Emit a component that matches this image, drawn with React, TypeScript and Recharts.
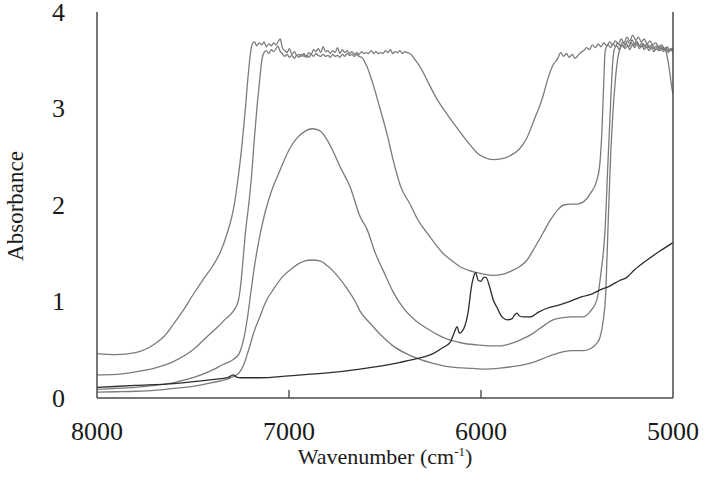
import React from 'react';
import { LineChart, Line, XAxis, YAxis, Label } from 'recharts';

type P = [number, number];

// Series A: highest baseline (~0.46), min ~2.48 near 5940 cm-1
const seriesA: P[] = [
  [8000, 0.46], [7900, 0.45], [7800, 0.47], [7700, 0.56], [7650, 0.64], [7600, 0.77], [7550, 0.91], [7500, 1.07],
  [7450, 1.22], [7400, 1.36], [7360, 1.50], [7320, 1.72], [7290, 1.95], [7265, 2.28], [7245, 2.62], [7228, 2.98],
  [7212, 3.36], [7200, 3.58], [7193, 3.66], [7180, 3.69], [7168, 3.65], [7155, 3.68], [7142, 3.66], [7130, 3.69],
  [7118, 3.64], [7105, 3.67], [7092, 3.65], [7080, 3.68], [7068, 3.66], [7055, 3.70], [7045, 3.72], [7035, 3.63],
  [7022, 3.60], [7010, 3.58], [6998, 3.62], [6985, 3.56], [6972, 3.59], [6960, 3.55], [6948, 3.56], [6935, 3.54],
  [6922, 3.57], [6910, 3.53], [6897, 3.58], [6885, 3.56], [6872, 3.61], [6860, 3.59], [6848, 3.62], [6835, 3.58],
  [6822, 3.64], [6810, 3.59], [6797, 3.60], [6785, 3.57], [6772, 3.60], [6760, 3.58], [6747, 3.63], [6735, 3.57],
  [6722, 3.61], [6710, 3.58], [6697, 3.60], [6685, 3.57], [6672, 3.59], [6660, 3.56], [6647, 3.58], [6635, 3.56],
  [6622, 3.59], [6610, 3.57], [6597, 3.58], [6585, 3.57], [6572, 3.60], [6560, 3.57], [6547, 3.59], [6535, 3.57],
  [6522, 3.58], [6510, 3.57], [6497, 3.60], [6485, 3.58], [6472, 3.61], [6460, 3.57], [6447, 3.59], [6435, 3.58],
  [6422, 3.60], [6410, 3.57], [6397, 3.59], [6385, 3.58], [6372, 3.57], [6360, 3.55], [6345, 3.51], [6330, 3.47],
  [6300, 3.37], [6280, 3.29], [6230, 3.10], [6180, 2.95], [6110, 2.76], [6060, 2.63], [6020, 2.54], [5980, 2.49],
  [5937, 2.47], [5890, 2.48], [5849, 2.51], [5800, 2.58], [5760, 2.70], [5720, 2.90], [5690, 3.05], [5677, 3.13],
  [5650, 3.32], [5625, 3.45], [5600, 3.52], [5585, 3.58], [5570, 3.54], [5555, 3.57], [5540, 3.53], [5525, 3.56],
  [5510, 3.52], [5495, 3.55], [5480, 3.58], [5465, 3.60], [5450, 3.63], [5435, 3.61], [5420, 3.66], [5405, 3.63],
  [5390, 3.67], [5375, 3.64], [5360, 3.68], [5345, 3.65], [5330, 3.69], [5315, 3.66], [5300, 3.70], [5285, 3.67],
  [5270, 3.72], [5255, 3.68], [5240, 3.74], [5225, 3.70], [5210, 3.76], [5195, 3.71], [5180, 3.74], [5165, 3.69],
  [5150, 3.72], [5135, 3.67], [5120, 3.70], [5105, 3.66], [5090, 3.68], [5075, 3.64], [5060, 3.66], [5045, 3.62],
  [5035, 3.58], [5025, 3.48], [5015, 3.35], [5008, 3.24], [5000, 3.15],
];

// Series B: baseline ~0.24, min ~1.27, shoulder ~2.0 near 5500
const seriesB: P[] = [
  [8000, 0.24], [7900, 0.245], [7800, 0.27], [7700, 0.31], [7600, 0.38], [7500, 0.50], [7430, 0.63], [7380, 0.72],
  [7330, 0.82], [7290, 0.90], [7265, 1.00], [7250, 1.20], [7240, 1.42], [7225, 1.75], [7210, 2.00], [7195, 2.30],
  [7180, 2.70], [7165, 3.05], [7150, 3.35], [7140, 3.52], [7130, 3.58], [7118, 3.60], [7105, 3.57], [7092, 3.61],
  [7080, 3.59], [7068, 3.62], [7058, 3.65], [7048, 3.60], [7035, 3.57], [7022, 3.54], [7010, 3.56], [6998, 3.53],
  [6985, 3.55], [6972, 3.52], [6960, 3.55], [6948, 3.53], [6935, 3.56], [6922, 3.54], [6910, 3.55], [6897, 3.53],
  [6885, 3.56], [6872, 3.54], [6860, 3.57], [6848, 3.55], [6835, 3.54], [6822, 3.56], [6810, 3.54], [6797, 3.55],
  [6785, 3.53], [6772, 3.56], [6760, 3.54], [6747, 3.55], [6735, 3.53], [6722, 3.56], [6710, 3.54], [6697, 3.57],
  [6685, 3.55], [6672, 3.56], [6660, 3.54], [6647, 3.56], [6635, 3.54], [6622, 3.53], [6610, 3.50], [6598, 3.45],
  [6585, 3.39], [6570, 3.30], [6550, 3.17], [6526, 3.00], [6490, 2.74], [6458, 2.47], [6420, 2.20], [6370, 2.01],
  [6330, 1.85], [6281, 1.71], [6240, 1.60], [6198, 1.50], [6150, 1.42], [6109, 1.36], [6060, 1.32], [6021, 1.30],
  [5980, 1.28], [5937, 1.27], [5890, 1.28], [5849, 1.31], [5800, 1.36], [5760, 1.43], [5720, 1.56], [5677, 1.71],
  [5640, 1.84], [5600, 1.95], [5570, 2.00], [5530, 2.01], [5500, 2.01], [5469, 2.03], [5430, 2.12], [5396, 2.26],
  [5380, 2.45], [5370, 2.78], [5362, 3.20], [5354, 3.58], [5350, 3.62], [5338, 3.66], [5325, 3.63], [5312, 3.67],
  [5300, 3.64], [5288, 3.68], [5275, 3.65], [5262, 3.69], [5250, 3.66], [5237, 3.70], [5225, 3.67], [5212, 3.71],
  [5200, 3.66], [5187, 3.69], [5175, 3.65], [5162, 3.68], [5150, 3.64], [5137, 3.67], [5125, 3.63], [5112, 3.66],
  [5100, 3.62], [5087, 3.65], [5075, 3.62], [5062, 3.64], [5050, 3.61], [5037, 3.63], [5025, 3.60], [5012, 3.62],
  [5000, 3.60],
];

// Series D: peak ~2.79 at 6880
const seriesD: P[] = [
  [8000, 0.09], [7900, 0.10], [7800, 0.11], [7700, 0.13], [7600, 0.16], [7500, 0.21], [7420, 0.27], [7340, 0.35],
  [7290, 0.40], [7260, 0.46], [7235, 0.62], [7215, 0.85], [7195, 1.15], [7177, 1.40], [7150, 1.70], [7125, 1.92],
  [7090, 2.15], [7047, 2.36], [7000, 2.57], [6960, 2.69], [6920, 2.76], [6880, 2.79], [6840, 2.77], [6800, 2.67],
  [6771, 2.56], [6730, 2.38], [6682, 2.19], [6630, 1.88], [6594, 1.75], [6550, 1.50], [6500, 1.28], [6458, 1.10],
  [6400, 0.92], [6340, 0.80], [6281, 0.72], [6200, 0.63], [6100, 0.57], [6021, 0.55], [5950, 0.54], [5901, 0.54],
  [5850, 0.56], [5797, 0.60], [5729, 0.67], [5680, 0.74], [5625, 0.81], [5580, 0.83], [5530, 0.84], [5469, 0.84],
  [5430, 0.90], [5396, 1.02], [5375, 1.30], [5354, 1.74], [5339, 2.43], [5325, 3.05], [5315, 3.45], [5305, 3.62],
  [5292, 3.65], [5280, 3.61], [5267, 3.66], [5255, 3.63], [5242, 3.67], [5230, 3.64], [5217, 3.68], [5205, 3.65],
  [5192, 3.70], [5180, 3.66], [5167, 3.64], [5155, 3.67], [5142, 3.63], [5130, 3.66], [5117, 3.62], [5105, 3.65],
  [5092, 3.61], [5080, 3.64], [5067, 3.60], [5055, 3.63], [5042, 3.61], [5030, 3.64], [5017, 3.60], [5005, 3.62],
  [5000, 3.61],
];

// Series E: peak ~1.43 at 6880
const seriesE: P[] = [
  [8000, 0.06], [7900, 0.065], [7800, 0.07], [7700, 0.08], [7600, 0.10], [7500, 0.12], [7400, 0.16], [7330, 0.19],
  [7292, 0.22], [7260, 0.26], [7235, 0.35], [7210, 0.50], [7180, 0.70], [7150, 0.85], [7125, 0.98], [7080, 1.13],
  [7036, 1.25], [6980, 1.35], [6917, 1.42], [6880, 1.43], [6840, 1.42], [6800, 1.37], [6750, 1.27], [6700, 1.14],
  [6650, 0.98], [6630, 0.90], [6580, 0.78], [6520, 0.65], [6458, 0.54], [6400, 0.47], [6318, 0.40], [6250, 0.36],
  [6150, 0.32], [6073, 0.31], [5990, 0.30], [5901, 0.31], [5820, 0.33], [5729, 0.37], [5650, 0.43], [5589, 0.47],
  [5530, 0.49], [5470, 0.49], [5430, 0.51], [5400, 0.56], [5380, 0.63], [5365, 0.78], [5350, 1.10], [5339, 1.74],
  [5325, 2.50], [5313, 2.95], [5300, 3.30], [5287, 3.53], [5276, 3.62], [5262, 3.66], [5250, 3.62], [5237, 3.65],
  [5225, 3.61], [5212, 3.66], [5200, 3.63], [5187, 3.67], [5175, 3.62], [5162, 3.65], [5150, 3.61], [5137, 3.64],
  [5125, 3.60], [5112, 3.63], [5100, 3.59], [5087, 3.62], [5075, 3.60], [5062, 3.63], [5050, 3.59], [5037, 3.62],
  [5025, 3.58], [5012, 3.61], [5000, 3.58],
];

// Dark series: low baseline with band near 6000
const seriesDark: P[] = [
  [8000, 0.11], [7800, 0.13], [7600, 0.15], [7400, 0.19], [7320, 0.21], [7302, 0.23], [7290, 0.24], [7276, 0.22],
  [7250, 0.21], [7150, 0.21], [7000, 0.23], [6800, 0.26], [6630, 0.30], [6420, 0.37], [6330, 0.41], [6250, 0.46],
  [6200, 0.52], [6160, 0.58], [6135, 0.70], [6125, 0.74], [6112, 0.67], [6095, 0.70], [6085, 0.74], [6068, 0.88],
  [6050, 1.15], [6038, 1.26], [6028, 1.30], [6015, 1.22], [6000, 1.21], [5985, 1.25], [5974, 1.25], [5955, 1.15],
  [5935, 1.01], [5917, 0.94], [5900, 0.87], [5885, 0.83], [5865, 0.81], [5840, 0.82], [5825, 0.86], [5813, 0.88],
  [5800, 0.85], [5780, 0.84], [5745, 0.84], [5700, 0.89], [5656, 0.93], [5600, 0.96], [5552, 0.99], [5474, 1.05],
  [5420, 1.08], [5380, 1.12], [5330, 1.16], [5276, 1.22], [5240, 1.25], [5200, 1.33], [5135, 1.43], [5070, 1.52],
  [5000, 1.61],
];

const grayCurves: P[][] = [seriesA, seriesB, seriesD, seriesE];

const xTicks = [8000, 7000, 6000, 5000];
const yTicks = [0, 1, 2, 3, 4];
const yInnerTicks = [1, 2, 3];

const W = 705;
const H = 477;
const M_LEFT = 97;
const M_RIGHT = 32;
const M_TOP = 12;
const M_BOTTOM = 79;
const PLOT_RIGHT = W - M_RIGHT;
const PLOT_BOTTOM = H - M_BOTTOM;
const FONT = '"Liberation Serif", "Times New Roman", serif';
const AXIS = '#4a4a4a';
const TEXT = '#1a1a1a';

const toRows = (pts: P[]) => pts.map(([w, v]) => ({ w, v }));

const XTick = (props: any) => {
  const { x, payload } = props;
  const v = payload.value;
  const inner = v !== 8000 && v !== 5000;
  return (
    <g>
      {inner && <line x1={x} x2={x} y1={PLOT_BOTTOM} y2={PLOT_BOTTOM - 8} stroke={AXIS} strokeWidth={1.4} />}
      <text x={x} y={PLOT_BOTTOM + 33} textAnchor="middle" dominantBaseline="central" fontSize={26} fontFamily={FONT} fill={TEXT}>
        {v}
      </text>
    </g>
  );
};

const YTick = (props: any) => {
  const { y, payload } = props;
  return (
    <text x={58.5} y={y} textAnchor="middle" dominantBaseline="central" fontSize={26} fontFamily={FONT} fill={TEXT}>
      {payload.value}
    </text>
  );
};

const RightTick = (props: any) => {
  const { y } = props;
  return <line x1={PLOT_RIGHT} x2={PLOT_RIGHT - 8} y1={y} y2={y} stroke={AXIS} strokeWidth={1.4} />;
};

export default function App() {
  return (
    <div style={{ position: 'absolute', left: 0, top: 0, width: W, height: H, background: '#fff' }}>
      <LineChart width={W} height={H} margin={{ top: M_TOP, right: 0, bottom: 0, left: 0 }}>
        <XAxis
          dataKey="w"
          type="number"
          domain={[5000, 8000]}
          reversed
          allowDataOverflow
          ticks={xTicks}
          interval={0}
          tick={<XTick />}
          tickLine={false}
          axisLine={{ stroke: AXIS, strokeWidth: 1.5 }}
          height={M_BOTTOM}
        >
          <Label
            content={() => (
              <text x={385} y={464} textAnchor="middle" fontSize={22} fontFamily={FONT} fill={TEXT}>
                Wavenumber (cm
                <tspan dy={-8} fontSize={13}>-1</tspan>
                <tspan dy={8}>)</tspan>
              </text>
            )}
          />
        </XAxis>
        <XAxis
          xAxisId="top"
          orientation="top"
          type="number"
          domain={[5000, 8000]}
          reversed
          height={0}
          tick={false}
          tickLine={false}
          axisLine={{ stroke: AXIS, strokeWidth: 1.5 }}
        />
        <YAxis
          type="number"
          domain={[0, 4]}
          ticks={yTicks}
          interval={0}
          tick={<YTick />}
          tickLine={false}
          axisLine={{ stroke: AXIS, strokeWidth: 1.5 }}
          width={M_LEFT}
        >
          <Label
            content={() => (
              <text
                x={15}
                y={206}
                transform="rotate(-90 15 206)"
                textAnchor="middle"
                dominantBaseline="central"
                fontSize={23}
                fontFamily={FONT}
                fill={TEXT}
              >
                Absorbance
              </text>
            )}
          />
        </YAxis>
        <YAxis
          yAxisId="right"
          orientation="right"
          type="number"
          domain={[0, 4]}
          ticks={yInnerTicks}
          interval={0}
          tick={<RightTick />}
          tickLine={false}
          axisLine={{ stroke: AXIS, strokeWidth: 1.5 }}
          width={M_RIGHT}
        />
        {grayCurves.map((s, i) => (
          <Line
            key={i}
            data={toRows(s)}
            dataKey="v"
            type="monotone"
            stroke="#7b7b7b"
            strokeWidth={1.3}
            dot={false}
            activeDot={false}
            isAnimationActive={false}
          />
        ))}
        <Line
          data={toRows(seriesDark)}
          dataKey="v"
          type="monotone"
          stroke="#2c2c2c"
          strokeWidth={1.3}
          dot={false}
          activeDot={false}
          isAnimationActive={false}
        />
      </LineChart>
    </div>
  );
}
